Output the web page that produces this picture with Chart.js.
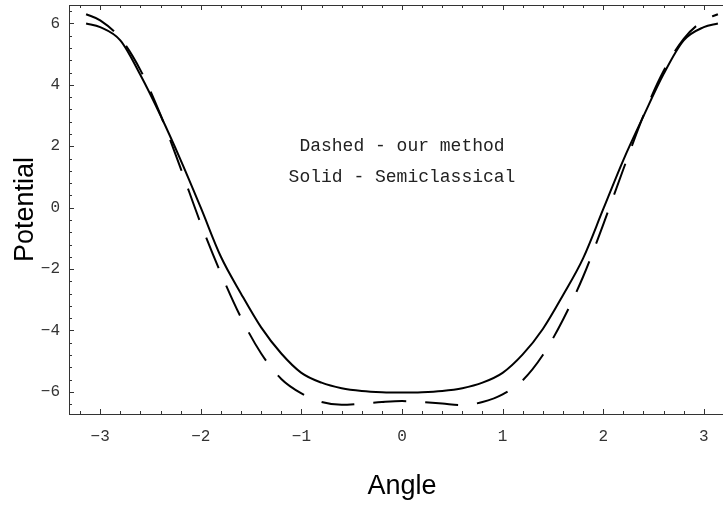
<!DOCTYPE html>
<html lang="en">
<head>
  <meta charset="UTF-8">
  <title>Potential vs Angle</title>
  <style>
    html, body { margin: 0; padding: 0; background: #fff; overflow: hidden; }
    .chartBox { width: 723px; height: 506px; overflow: hidden; }
  </style>
</head>
<body>
  <div class="chartBox">
    <canvas id="potentialChart" width="736" height="506"></canvas>
  </div>

  <script src="https://cdn.jsdelivr.net/npm/chart.js"></script>
  <script>
    // Solid curve - semiclassical
    const solidAngle = [-3.14, -3.0, -2.8, -2.6, -2.4, -2.2, -2.0, -1.8, -1.6, -1.4, -1.2, -1.0, -0.8, -0.6, -0.4, -0.2, 0,
                        0.2, 0.4, 0.6, 0.8, 1.0, 1.2, 1.4, 1.6, 1.8, 2.0, 2.2, 2.4, 2.6, 2.8, 3.0, 3.14];
    const solidPotential = [6.00, 5.88, 5.45, 4.32, 3.0, 1.55, 0.0, -1.6, -2.8, -3.9, -4.75, -5.38, -5.7, -5.88, -5.97, -6.01, -6.02,
                            -6.01, -5.97, -5.88, -5.7, -5.38, -4.78, -3.95, -2.85, -1.65, -0.05, 1.55, 2.98, 4.35, 5.45, 5.88, 6.00];

    // Dashed curve - our method
    const dashedAngle = [-3.14, -3.0, -2.8, -2.6, -2.4, -2.2, -2.0, -1.8, -1.6, -1.4, -1.2, -1.0, -0.8, -0.6, -0.4, -0.2, 0,
                         0.2, 0.4, 0.6, 0.8, 1.0, 1.2, 1.4, 1.6, 1.8, 2.0, 2.2, 2.4, 2.6, 2.8, 3.0, 3.14];
    const dashedPotential = [6.30, 6.10, 5.52, 4.48, 3.02, 1.28, -0.52, -2.14, -3.58, -4.75, -5.58, -6.05, -6.33, -6.42, -6.38, -6.33, -6.30,
                             -6.33, -6.38, -6.43, -6.33, -6.08, -5.62, -4.8, -3.65, -2.25, -0.55, 1.25, 3.0, 4.45, 5.5, 6.1, 6.30];

    const xTickValues = [-3, -2, -1, 0, 1, 2, 3];
    const yTickValues = [-6, -4, -2, 0, 2, 4, 6];

    const noteLines = ['Dashed - our method', 'Solid - Semiclassical'];
    const noteAngle = [0, 0];
    const notePotential = [2, 1];

    const toPoints = (xs, ys) => xs.map((x, i) => ({ x: x, y: ys[i] }));
    const fmt = v => (v < 0 ? '\u2212' + Math.abs(v) : String(v));
    const noMargins = s => {
      s.paddingTop = 0; s.paddingBottom = 0; s.paddingLeft = 0; s.paddingRight = 0;
    };

    // frame, inward ticks and the text notes
    const framePlugin = {
      id: 'frame',
      afterDraw(chart) {
        const { ctx, chartArea: a, scales: { x, y } } = chart;
        ctx.save();
        ctx.strokeStyle = '#333';
        ctx.lineWidth = 1;
        ctx.strokeRect(a.left + 0.5, a.top + 0.5, a.right - a.left, a.bottom - a.top);

        ctx.beginPath();
        for (let i = -17; i <= 17; i++) {
          const v = i / 5;
          if (v < x.min || v > x.max) continue;
          const len = (i % 5 === 0) ? 5 : 3;
          const px = Math.round(x.getPixelForValue(v)) + 0.5;
          ctx.moveTo(px, a.bottom); ctx.lineTo(px, a.bottom - len);
          ctx.moveTo(px, a.top); ctx.lineTo(px, a.top + len);
        }
        for (let i = -17; i <= 17; i++) {
          const v = i * 0.4;
          if (v < y.min || v > y.max) continue;
          const len = (i % 5 === 0) ? 5 : 3;
          const py = Math.round(y.getPixelForValue(v)) + 0.5;
          ctx.moveTo(a.left, py); ctx.lineTo(a.left + len, py);
          ctx.moveTo(a.right, py); ctx.lineTo(a.right - len, py);
        }
        ctx.stroke();

        ctx.fillStyle = '#222';
        ctx.font = '18px "Liberation Mono", monospace';
        ctx.textAlign = 'center';
        ctx.textBaseline = 'middle';
        noteLines.forEach((t, i) => {
          ctx.fillText(t, x.getPixelForValue(noteAngle[i]), y.getPixelForValue(notePotential[i]));
        });
        ctx.restore();
      }
    };

    const lineStyle = {
      borderColor: '#000',
      borderWidth: 2,
      pointRadius: 0,
      fill: false,
      cubicInterpolationMode: 'monotone'
    };

    new Chart(document.getElementById('potentialChart'), {
      type: 'line',
      data: {
        datasets: [
          { ...lineStyle, label: 'Solid - Semiclassical', data: toPoints(solidAngle, solidPotential) },
          { ...lineStyle, label: 'Dashed - our method', data: toPoints(dashedAngle, dashedPotential), borderDash: [33, 19] }
        ]
      },
      options: {
        responsive: false,
        animation: false,
        layout: { padding: { left: 0, top: 5, right: 1, bottom: 0 } },
        plugins: { legend: { display: false }, tooltip: { enabled: false } },
        scales: {
          x: {
            type: 'linear',
            min: -3.31,
            max: 3.31,
            grid: { display: false, drawTicks: false },
            border: { display: false },
            afterBuildTicks: s => { s.ticks = xTickValues.map(v => ({ value: v })); },
            afterFit: s => { s.height = 92; noMargins(s); },
            ticks: {
              autoSkip: false,
              maxRotation: 0,
              padding: 13,
              color: '#333',
              font: { family: '"Liberation Mono", monospace', size: 16 },
              callback: v => fmt(v)
            },
            title: {
              display: true,
              text: 'Angle',
              color: '#000',
              font: { family: '"Liberation Sans", Arial, sans-serif', size: 27 },
              padding: { top: 0, bottom: 3 }
            }
          },
          y: {
            min: -6.72,
            max: 6.6,
            grid: { display: false, drawTicks: false },
            border: { display: false },
            afterBuildTicks: s => { s.ticks = yTickValues.map(v => ({ value: v })); },
            afterFit: s => { s.width = 69; noMargins(s); },
            ticks: {
              autoSkip: false,
              padding: 9,
              color: '#333',
              font: { family: '"Liberation Mono", monospace', size: 16 },
              callback: v => fmt(v)
            },
            title: {
              display: true,
              text: 'Potential',
              color: '#000',
              font: { family: '"Liberation Sans", Arial, sans-serif', size: 27 },
              padding: { top: 9, bottom: 0 }
            }
          }
        }
      },
      plugins: [framePlugin]
    });
  </script>
</body>
</html>
